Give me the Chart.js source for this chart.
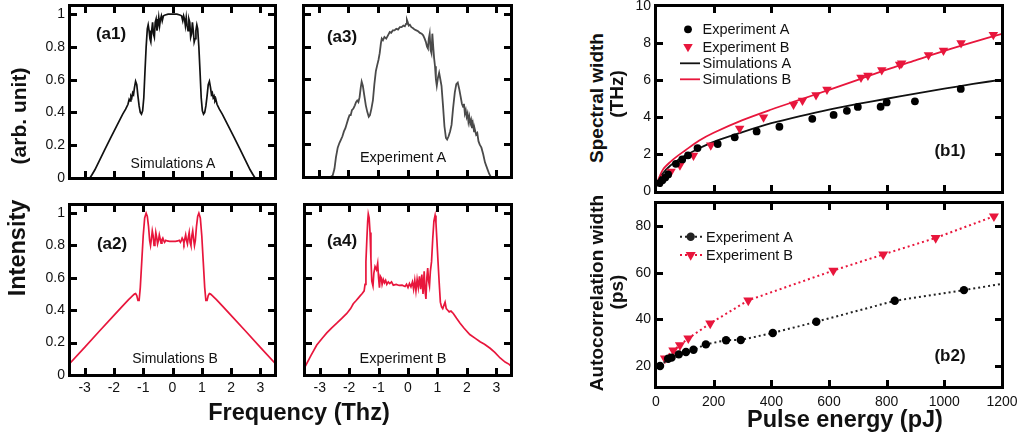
<!DOCTYPE html>
<html><head><meta charset="utf-8">
<script src="https://cdn.jsdelivr.net/npm/chart.js@4.4.0/dist/chart.umd.min.js"></script>
<style>
html,body{margin:0;padding:0;background:#fff;}
#root{position:relative;width:1019px;height:437px;overflow:hidden;font-family:"Liberation Sans",Arial,sans-serif;color:#111;background:#fff;}
canvas{position:absolute;}
.t{position:absolute;white-space:nowrap;line-height:1;transform:translate(-50%,-50%);}
.r{transform:translate(-50%,-50%) rotate(-90deg);}
.b{font-weight:bold;}
</style></head>
<body><div id="root">
<canvas id="ca1" width="290" height="195" style="left:0;top:0"></canvas>
<canvas id="ca3" width="240" height="195" style="left:290px;top:0"></canvas>
<canvas id="ca2" width="290" height="215" style="left:0;top:195px"></canvas>
<canvas id="ca4" width="240" height="215" style="left:290px;top:195px"></canvas>
<canvas id="cb1" width="399" height="197" style="left:620px;top:0"></canvas>
<canvas id="cb2" width="399" height="240" style="left:620px;top:197px"></canvas>

<div class="t b" style="left:111px;top:33px;font-size:17px">(a1)</div>
<div class="t b" style="left:342px;top:36px;font-size:17px">(a3)</div>
<div class="t b" style="left:112px;top:243px;font-size:17px">(a2)</div>
<div class="t b" style="left:342px;top:240px;font-size:17px">(a4)</div>
<div class="t b" style="left:950px;top:150px;font-size:17px">(b1)</div>
<div class="t b" style="left:950px;top:355px;font-size:17px">(b2)</div>
<div class="t" style="left:173px;top:163px;font-size:14px">Simulations A</div>
<div class="t" style="left:403px;top:157px;font-size:14.5px">Experiment A</div>
<div class="t" style="left:175px;top:358px;font-size:14px">Simulations B</div>
<div class="t" style="left:403px;top:358px;font-size:14.5px">Experiment B</div>
<div class="t b" style="left:299px;top:413px;font-size:23.5px">Frequency (Thz)</div>
<div class="t b r" style="left:18px;top:248px;font-size:23.5px">Intensity</div>
<div class="t b r" style="left:18px;top:116px;font-size:21px">(arb. unit)</div>
<div class="t b r" style="left:596px;top:98px;font-size:19px">Spectral width</div>
<div class="t b r" style="left:616px;top:94px;font-size:19px">(THz)</div>
<div class="t b r" style="left:596px;top:293px;font-size:19px">Autocorrelation width</div>
<div class="t b r" style="left:616px;top:292px;font-size:19px">(ps)</div>
<div class="t b" style="left:845px;top:420px;font-size:23.5px">Pulse energy (pJ)</div>
</div>
<script>
// ---------- DATA ----------
// (a1) Simulations A
const a1_f = [-3.5,-2.82,-2.75,-2.65,-2.5,-2.3,-2.1,-1.9,-1.7,-1.6,-1.52,-1.48,-1.45,-1.42,-1.39,-1.36,-1.33,-1.3,-1.26,-1.22,-1.18,-1.14,-1.1,-1.06,-1.02,-0.98,-0.94,-0.9,-0.86,-0.83,-0.8,-0.77,-0.74,-0.71,-0.68,-0.65,-0.62,-0.59,-0.56,-0.53,-0.5,-0.47,-0.44,-0.41,-0.38,-0.35,-0.31,-0.25,-0.15,0,
  0.15,0.25,0.31,0.35,0.38,0.41,0.44,0.47,0.5,0.53,0.56,0.59,0.62,0.65,0.68,0.71,0.74,0.77,0.8,0.83,0.86,0.9,0.94,0.98,1.02,1.06,1.1,1.14,1.18,1.22,1.26,1.3,1.33,1.36,1.39,1.42,1.45,1.48,1.52,1.6,1.7,1.9,2.1,2.3,2.5,2.65,2.75,2.82,3.5];
const a1_I = [0,0,0.02,0.05,0.105,0.178,0.25,0.32,0.39,0.42,0.45,0.48,0.47,0.5,0.49,0.52,0.51,0.55,0.59,0.57,0.5,0.44,0.4,0.39,0.41,0.49,0.65,0.8,0.91,0.935,0.9,0.85,0.83,0.9,0.95,0.88,0.86,0.95,0.97,0.9,0.93,0.98,0.93,0.97,0.99,0.96,0.99,0.995,1.0,1.0,
  1.0,0.995,0.99,0.96,0.99,0.97,0.93,0.98,0.93,0.9,0.97,0.95,0.86,0.88,0.95,0.9,0.83,0.85,0.9,0.935,0.91,0.8,0.65,0.49,0.41,0.39,0.4,0.44,0.5,0.57,0.59,0.55,0.51,0.52,0.49,0.5,0.47,0.48,0.45,0.42,0.39,0.32,0.25,0.178,0.105,0.05,0.02,0,0];
// (a3) Experiment A
const a3_f = [-3.5,-2.6,-2.53,-2.47,-2.42,-2.36,-2.3,-2.25,-2.2,-2.15,-2.1,-2.05,-2.0,-1.96,-1.92,-1.88,-1.83,-1.78,-1.74,-1.7,-1.66,-1.62,-1.58,-1.55,-1.51,-1.46,-1.41,-1.36,-1.31,-1.27,-1.22,-1.17,-1.12,-1.07,-1.02,-0.98,-0.94,-0.9,-0.87,-0.83,-0.78,-0.72,-0.66,-0.6,-0.55,-0.5,-0.44,-0.38,-0.32,-0.26,-0.2,-0.14,-0.09,-0.05,-0.02,0.01,0.04,0.08,0.13,0.18,0.24,0.3,0.36,0.42,0.48,0.53,0.58,0.62,0.66,0.69,0.72,0.75,0.78,0.81,0.84,0.87,0.9,0.93,0.96,0.99,1.03,1.07,1.11,1.15,1.2,1.25,1.3,1.34,1.39,1.44,1.49,1.54,1.6,1.65,1.7,1.75,1.8,1.84,1.88,1.91,1.94,1.97,2.0,2.03,2.06,2.09,2.12,2.15,2.18,2.21,2.25,2.28,2.32,2.36,2.4,2.44,2.5,2.56,2.62,2.7,2.76,2.82,3.5];
const a3_I = [0,0,0.01,0.05,0.12,0.18,0.21,0.23,0.25,0.28,0.3,0.33,0.36,0.38,0.38,0.41,0.42,0.44,0.46,0.47,0.46,0.49,0.55,0.585,0.56,0.5,0.44,0.4,0.37,0.38,0.42,0.47,0.57,0.65,0.69,0.72,0.76,0.82,0.85,0.84,0.86,0.85,0.87,0.89,0.885,0.9,0.9,0.91,0.905,0.92,0.92,0.93,0.925,0.94,0.965,0.95,0.93,0.935,0.92,0.915,0.905,0.9,0.895,0.885,0.88,0.87,0.85,0.83,0.8,0.79,0.85,0.88,0.78,0.76,0.88,0.8,0.73,0.68,0.6,0.56,0.61,0.64,0.6,0.56,0.44,0.31,0.24,0.23,0.25,0.28,0.32,0.42,0.52,0.57,0.58,0.54,0.49,0.45,0.43,0.45,0.39,0.41,0.37,0.39,0.34,0.37,0.33,0.35,0.3,0.33,0.28,0.29,0.26,0.27,0.22,0.2,0.18,0.14,0.09,0.05,0.02,0,0];
// (a2) Simulations B
const a2_f = [-3.5,-3.0,-2.5,-2.0,-1.7,-1.5,-1.42,-1.36,-1.3,-1.26,-1.22,-1.18,-1.14,-1.1,-1.05,-1.0,-0.95,-0.9,-0.86,-0.82,-0.78,-0.75,-0.72,-0.69,-0.66,-0.63,-0.6,-0.57,-0.54,-0.51,-0.48,-0.45,-0.42,-0.39,-0.36,-0.33,-0.3,-0.27,-0.23,-0.18,-0.1,0,
  0.1,0.18,0.23,0.27,0.3,0.33,0.36,0.39,0.42,0.45,0.48,0.51,0.54,0.57,0.6,0.63,0.66,0.69,0.72,0.75,0.78,0.82,0.86,0.9,0.95,1.0,1.05,1.1,1.14,1.18,1.22,1.26,1.3,1.36,1.42,1.5,1.7,2.0,2.5,3.0,3.5];
const a2_I = [0.073,0.171,0.27,0.368,0.427,0.466,0.48,0.49,0.5,0.503,0.49,0.46,0.46,0.54,0.7,0.86,0.97,1.0,0.98,0.92,0.83,0.8,0.84,0.89,0.86,0.8,0.82,0.88,0.85,0.81,0.83,0.865,0.84,0.815,0.835,0.845,0.83,0.82,0.832,0.828,0.825,0.825,
  0.825,0.828,0.832,0.82,0.83,0.845,0.835,0.815,0.84,0.865,0.83,0.81,0.85,0.88,0.82,0.8,0.86,0.89,0.84,0.8,0.83,0.92,0.98,1.0,0.97,0.86,0.7,0.54,0.46,0.46,0.49,0.503,0.5,0.49,0.48,0.466,0.427,0.368,0.27,0.171,0.073];
// (a4) Experiment B
const a4_f = [-3.5,-3.3,-3.1,-2.9,-2.76,-2.6,-2.42,-2.25,-2.08,-1.95,-1.86,-1.76,-1.69,-1.62,-1.57,-1.53,-1.49,-1.46,-1.43,-1.4,-1.37,-1.35,-1.32,-1.29,-1.26,-1.23,-1.19,-1.16,-1.12,-1.07,-1.03,-1.0,-0.97,-0.94,-0.91,-0.88,-0.84,-0.8,-0.76,-0.72,-0.67,-0.62,-0.56,-0.5,-0.4,-0.3,-0.2,-0.1,-0.05,0.0,0.05,0.1,0.15,0.19,0.23,0.27,0.31,0.35,0.39,0.43,0.47,0.51,0.55,0.58,0.61,0.64,0.67,0.7,0.73,0.76,0.8,0.84,0.88,0.92,0.95,0.98,1.02,1.06,1.1,1.14,1.18,1.22,1.26,1.3,1.35,1.4,1.46,1.54,1.65,1.77,1.9,2.1,2.3,2.45,2.6,2.79,2.95,3.13,3.3,3.44,3.5];
const a4_I = [0.05,0.12,0.185,0.23,0.26,0.29,0.32,0.35,0.38,0.41,0.44,0.46,0.475,0.49,0.5,0.51,0.52,0.56,0.7,0.83,0.95,0.995,0.97,0.88,0.72,0.58,0.55,0.63,0.67,0.65,0.69,0.6,0.54,0.61,0.6,0.56,0.59,0.57,0.585,0.56,0.575,0.565,0.575,0.555,0.56,0.553,0.555,0.547,0.56,0.54,0.565,0.545,0.575,0.53,0.585,0.52,0.59,0.54,0.61,0.53,0.62,0.5,0.64,0.52,0.47,0.6,0.66,0.58,0.55,0.64,0.7,0.84,0.95,0.985,0.94,0.84,0.7,0.57,0.45,0.42,0.41,0.43,0.45,0.41,0.4,0.39,0.395,0.38,0.35,0.32,0.29,0.25,0.225,0.205,0.19,0.165,0.14,0.105,0.08,0.066,0.055];
// (b1) spectral width vs pulse energy
const b1_expA_E = [12,22,32,42,69,91,111,144,214,273,349,428,542,616,662,700,779,800,898,1057];
const b1_expA_W = [0.45,0.6,0.75,0.92,1.49,1.73,1.95,2.34,2.56,2.92,3.24,3.49,3.92,4.13,4.35,4.56,4.57,4.8,4.86,5.53];
const b1_expB_E = [30,52,83,130,190,290,373,477,508,555,593,711,735,783,845,852,945,997,1058,1170];
const b1_expB_W = [0.75,1.08,1.42,1.94,2.5,3.4,4.0,4.69,4.9,5.2,5.5,6.15,6.25,6.55,6.85,6.92,7.36,7.6,8.0,8.45];
const b1_sim_E = [5,10,25,50,75,100,150,200,300,400,500,600,700,800,900,1000,1100,1200];
const b1_simA_W = [0.4,0.62,1.0,1.4,1.68,1.92,2.33,2.68,3.2,3.68,4.07,4.42,4.72,5.0,5.28,5.54,5.8,6.03];
const b1_simB_W = [0.45,0.72,1.2,1.6,1.92,2.2,2.75,3.17,3.85,4.42,4.95,5.48,6.02,6.57,7.07,7.58,8.05,8.5];
// (b2) autocorrelation width vs pulse energy
const b2_expA_E = [14,42,54,79,104,130,173,243,294,405,556,828,1068,1200];
const b2_expA_W = [20,23.1,23.6,25,26,27,29.3,31.1,31.2,34.2,39,48,52.6,55.3];
const b2_expB_E = [31,60,83,112,188,320,615,788,970,1172];
const b2_expB_W = [23.3,26.7,29,31.9,38.3,48.2,61,67.9,75,84.3];
// tick values
const freqTicks = [-3,-2,-1,0,1,2,3];
const intensityTicks = [0,0.2,0.4,0.6,0.8,1];
const energyTicks = [0,200,400,600,800,1000,1200];
const widthTicks = [0,2,4,6,8,10];
const acTicks = [20,40,60,80];

// ---------- RENDER ----------
const RED = '#e8163c';
const FONT = '"Liberation Sans", Arial, sans-serif';
const xy = (xs, ys) => xs.map((x, i) => ({x: x, y: ys[i]}));

function drawFrame(chart) {
  const ctx = chart.ctx, a = chart.chartArea, sx = chart.scales.x, sy = chart.scales.y;
  const l = Math.round(a.left), r = Math.round(a.right), t = Math.round(a.top), b = Math.round(a.bottom);
  ctx.save();
  ctx.setTransform(1, 0, 0, 1, 0, 0);
  ctx.globalAlpha = 1;
  ctx.globalCompositeOperation = 'source-over';
  ctx.fillStyle = '#000000';
  ctx.fillRect(l - 2, t - 2, r - l + 3, 3);
  ctx.fillRect(l - 2, b - 1, r - l + 3, 3);
  ctx.fillRect(l - 2, t - 2, 3, b - t + 4);
  ctx.fillRect(r - 1, t - 2, 3, b - t + 4);
  // inward tick marks on all four sides
  const L = 7, W = 3;
  const xv = sx.ticks.map(k => k.value), yv = sy.ticks.map(k => k.value);
  for (let i = 0; i < xv.length; i++) {
    const p = Math.round(sx.getPixelForValue(xv[i]));
    if (p < l + 3 || p > r - 3) continue;
    ctx.fillRect(p - 1, b - L, W, L);
    ctx.fillRect(p - 1, t, W, L);
  }
  for (let i = 0; i < yv.length; i++) {
    const p = Math.round(sy.getPixelForValue(yv[i]));
    if (p < t + 3 || p > b - 3) continue;
    ctx.fillRect(l, p - 1, L, W);
    ctx.fillRect(r - L, p - 1, L, W);
  }
  ctx.restore();
}

function downTri(ctx, x, y, r) {
  const h = r * 1.5, w = r * 0.866 * 2;
  ctx.beginPath();
  ctx.moveTo(x - w / 2, y - h / 3);
  ctx.lineTo(x + w / 2, y - h / 3);
  ctx.lineTo(x, y + 2 * h / 3);
  ctx.closePath();
  ctx.fill();
}

function drawLegend(chart, opts) {
  if (!opts) return;
  const ctx = chart.ctx, a = chart.chartArea;
  ctx.save();
  ctx.font = '14.5px ' + FONT;
  ctx.textBaseline = 'middle';
  ctx.textAlign = 'left';
  opts.items.forEach(it => {
    const y = a.top + it.dy;
    const x0 = a.left + opts.lx0, x1 = a.left + opts.lx1, xm = a.left + opts.mx;
    if (it.line) {
      ctx.strokeStyle = it.color;
      ctx.lineWidth = it.dotted ? 2 : 1.8;
      ctx.setLineDash(it.dotted ? [2, 3] : []);
      ctx.beginPath(); ctx.moveTo(x0, y); ctx.lineTo(x1, y); ctx.stroke();
      ctx.setLineDash([]);
    }
    ctx.fillStyle = it.color;
    if (it.marker === 'circle') { ctx.beginPath(); ctx.arc(xm, y, opts.cr, 0, Math.PI * 2); ctx.fill(); }
    if (it.marker === 'tri') downTri(ctx, xm, y, opts.tr);
    ctx.fillStyle = '#111';
    ctx.fillText(it.text, a.left + opts.tx, y + 1);
  });
  ctx.restore();
}

function axis(min, max, ticks, showLabels, pad, fixedSize, horiz) {
  return {
    type: 'linear', min: min, max: max,
    afterBuildTicks(s) { s.ticks = ticks.map(v => ({value: v})); },
    afterFit(s) {
      if (horiz) s.height = fixedSize; else s.width = fixedSize;
      s.paddingLeft = 0; s.paddingRight = 0; s.paddingTop = 0; s.paddingBottom = 0;
    },
    grid: {display: false, drawTicks: false, tickLength: 0},
    border: {display: false},
    ticks: {display: showLabels, padding: pad, autoSkip: false, maxRotation: 0, minRotation: 0,
            callback: v => String(v),
            color: '#111', font: {family: FONT, size: 14}}
  };
}

function panel(id, datasets, o) {
  return new Chart(document.getElementById(id), {
    type: 'scatter',
    data: {datasets: datasets},
    options: {
      responsive: false, maintainAspectRatio: false, animation: false,
      layout: {padding: {top: o.top, right: o.right, bottom: 0, left: 0}},
      plugins: {legend: {display: false}, tooltip: {enabled: false}},
      scales: {
        x: axis(o.xmin, o.xmax, o.xt, o.xl, o.xpad || 5, o.xH, true),
        y: axis(o.ymin, o.ymax, o.yt, o.yl, 5, o.yW, false)
      }
    },
    plugins: [{id: 'deco_' + id, afterDraw(chart) { drawFrame(chart); drawLegend(chart, o.legend); }}]
  });
}

const spec = (xs, ys, color, w) => ({data: xy(xs, ys), showLine: true, borderColor: color, borderWidth: w || 1.7, pointRadius: 0, tension: 0, fill: false});

panel('ca1', [spec(a1_f, a1_I, '#111')], {top: 6, right: 15, xH: 17, yW: 70, xmin: -3.5, xmax: 3.5, ymin: 0, ymax: 1.05, xt: freqTicks, yt: intensityTicks, xl: false, yl: true});
panel('ca3', [spec(a3_f, a3_I, '#4a4a4a', 1.8)], {top: 6, right: 19, xH: 18, yW: 14, xmin: -3.5, xmax: 3.5, ymin: 0, ymax: 1.05, xt: freqTicks, yt: intensityTicks, xl: false, yl: false});
panel('ca2', [spec(a2_f, a2_I, RED)], {top: 10, right: 15, xH: 35, yW: 70, xmin: -3.5, xmax: 3.5, ymin: 0, ymax: 1.05, xt: freqTicks, yt: intensityTicks, xl: true, yl: true});
panel('ca4', [spec(a4_f, a4_I, RED)], {top: 10, right: 19, xH: 35, yW: 15, xmin: -3.5, xmax: 3.5, ymin: 0, ymax: 1.05, xt: freqTicks, yt: intensityTicks, xl: true, yl: false});

panel('cb1', [
  {data: xy(b1_expA_E, b1_expA_W), pointStyle: 'circle', pointRadius: 3.9, backgroundColor: '#000', borderWidth: 0, showLine: false},
  {data: xy(b1_expB_E, b1_expB_W), pointStyle: 'triangle', rotation: 180, pointRadius: 5.5, backgroundColor: RED, borderWidth: 0, showLine: false},
  {data: xy(b1_sim_E, b1_simA_W), showLine: true, borderColor: '#111', borderWidth: 1.8, pointRadius: 0, tension: 0.3},
  {data: xy(b1_sim_E, b1_simB_W), showLine: true, borderColor: RED, borderWidth: 1.8, pointRadius: 0, tension: 0.3}
], {top: 6, right: 17, xH: 5, yW: 36, xmin: 0, xmax: 1200, ymin: 0, ymax: 10, xt: energyTicks, yt: widthTicks, xl: false, yl: true,
  legend: {lx0: 24, lx1: 44, mx: 32, tx: 46.5, cr: 3.9, tr: 5.5, items: [
    {dy: 23.3, marker: 'circle', color: '#000', text: 'Experiment A'},
    {dy: 40.7, marker: 'tri', color: RED, text: 'Experiment B'},
    {dy: 57.3, line: true, color: '#111', text: 'Simulations A'},
    {dy: 73.3, line: true, color: RED, text: 'Simulations B'}]}});

const nA = b2_expA_E.length;
panel('cb2', [
  {data: xy(b2_expA_E, b2_expA_W), showLine: true, borderColor: '#222', borderWidth: 2, borderDash: [2, 3], tension: 0,
   pointStyle: 'circle', pointRadius: c => c.dataIndex === nA - 1 ? 0 : 4.2, backgroundColor: '#000', pointBorderWidth: 0},
  {data: xy(b2_expB_E, b2_expB_W), showLine: true, borderColor: RED, borderWidth: 2, borderDash: [2, 3], tension: 0,
   pointStyle: 'triangle', rotation: 180, pointRadius: 5.8, backgroundColor: RED, pointBorderWidth: 0}
], {top: 6, right: 17, xH: 50, yW: 36, xmin: 0, xmax: 1200, ymin: 11, ymax: 90, xt: energyTicks, yt: acTicks, xl: true, yl: true, xpad: 7,
  legend: {lx0: 24, lx1: 46, mx: 34.7, tx: 50, cr: 4.2, tr: 5.8, items: [
    {dy: 33.7, line: true, dotted: true, marker: 'circle', color: '#222', text: 'Experiment A'},
    {dy: 52, line: true, dotted: true, marker: 'tri', color: RED, text: 'Experiment B'}]}});
</script>
</body></html>
